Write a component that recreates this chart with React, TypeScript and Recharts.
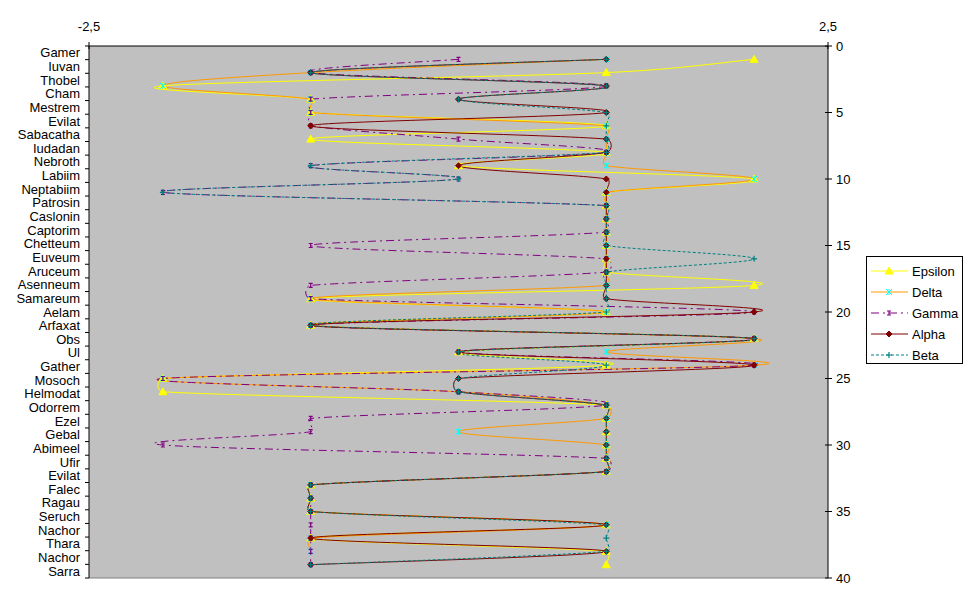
import React from 'react';
import { ComposedChart, Line, XAxis, YAxis, CartesianGrid, Legend } from 'recharts';

const categories = [
  'Gamer', 'Iuvan', 'Thobel', 'Cham', 'Mestrem', 'Evilat', 'Sabacatha', 'Iudadan', 'Nebroth', 'Labiim',
  'Neptabiim', 'Patrosin', 'Caslonin', 'Captorim', 'Chetteum', 'Euveum', 'Aruceum', 'Asenneum', 'Samareum', 'Aelam',
  'Arfaxat', 'Obs', 'Ul', 'Gather', 'Mosoch', 'Helmodat', 'Odorrem', 'Ezel', 'Gebal', 'Abimeel',
  'Ufir', 'Evilat', 'Falec', 'Ragau', 'Seruch', 'Nachor', 'Thara', 'Nachor', 'Sarra',
];
const positions = [
  1, 2, 3, 4, 5, 6, 7, 8, 9, 10, 11, 12, 13, 14, 15, 16, 17, 18, 19, 20,
  21, 22, 23, 24, 25, 26, 27, 28, 29, 30, 31, 32, 33, 34, 35, 36, 37, 38, 39,
];
const epsilon = [
  2, 1, -2, -1, -1, 1, -1, 1, 0, 2, 1, 1, 1, 1, 1, 1, 1, 2, -1, 1,
  -1, 2, 0, 1, -2, -2, 1, 1, 1, 1, 1, 1, -1, -1, -1, 1, -1, 1, 1,
];
const delta: (number | null)[] = [
  1, -1, -2, -1, -1, 1, 1, 1, 1, 2, 1, 1, 1, 1, 1, 1, 1, 1, -1, 1,
  -1, 2, 1, 2, -2, 0, 1, 1, 0, 1, 1, 1, -1, -1, -1, 1, -1, -1, null,
];
const gamma = [
  0, -1, 1, -1, -1, -1, 0, 1, -1, 0, -2, 1, 1, 1, -1, 1, 1, -1, -1, 2,
  -1, 2, 0, 2, -2, 0, 1, -1, -1, -2, 1, 1, -1, -1, -1, -1, -1, -1, -1,
];
const alpha = [
  1, -1, 1, 0, 1, -1, 1, 1, 0, 1, 1, 1, 1, 1, 1, 1, 1, 1, 1, 2,
  -1, 2, 0, 2, 0, 0, 1, 1, 1, 1, 1, 1, -1, -1, -1, 1, -1, 1, -1,
];
const beta = [
  1, -1, 1, 0, 1, 1, 1, 1, -1, 0, -2, 1, 1, 1, 1, 2, 1, 1, 1, 1,
  -1, 2, 0, 1, 0, 0, 1, 1, 1, 1, 1, 1, -1, -1, -1, 1, 1, 1, -1,
];
const seriesOrder = ['Epsilon', 'Delta', 'Gamma', 'Alpha', 'Beta'];
const xTicks = [-2.5, 2.5];
const yTicks = [0, 5, 10, 15, 20, 25, 30, 35, 40];
const catTicks = [
  0, 1, 2, 3, 4, 5, 6, 7, 8, 9, 10, 11, 12, 13, 14, 15, 16, 17, 18, 19,
  20, 21, 22, 23, 24, 25, 26, 27, 28, 29, 30, 31, 32, 33, 34, 35, 36, 37, 38, 39,
];

const data = categories.map((name, i) => ({
  name,
  pos: positions[i],
  Epsilon: epsilon[i],
  Delta: delta[i],
  Gamma: gamma[i],
  Alpha: alpha[i],
  Beta: beta[i],
}));

const W = 970;
const H = 603;
const LEFT_W = 89;
const RIGHT_W = 142;
const TOP_H = 46;
const BOTTOM_H = 25;
const PLOT_TOP = TOP_H;
const PLOT_BOTTOM = H - BOTTOM_H;
const BAND = (PLOT_BOTTOM - PLOT_TOP) / categories.length;
const FONT = '"Liberation Sans", Arial, sans-serif';

const COLORS: Record<string, string> = {
  Epsilon: '#FFFF00',
  Delta: '#FF9900',
  Gamma: '#800080',
  Alpha: '#800000',
  Beta: '#008080',
};
const DASH: Record<string, string | undefined> = {
  Epsilon: undefined,
  Delta: undefined,
  Gamma: '8 4 2 4',
  Alpha: undefined,
  Beta: '3 2',
};

// Excel-like smoothing: Catmull-Rom arms, limited to half of the segment length
const excelSmooth: any = (context: any) => {
  let pts: number[][] = [];
  const arm = (a: number[], b: number[], segLen: number) => {
    let dx = (b[0] - a[0]) / 6;
    let dy = (b[1] - a[1]) / 6;
    const len = Math.hypot(dx, dy);
    const lim = segLen * 0.5;
    if (len > lim && len > 0) {
      dx = (dx * lim) / len;
      dy = (dy * lim) / len;
    }
    return [dx, dy];
  };
  return {
    areaStart() {},
    areaEnd() {},
    lineStart() {
      pts = [];
    },
    point(x: number, y: number) {
      pts.push([+x, +y]);
    },
    lineEnd() {
      const n = pts.length;
      if (n === 0) return;
      context.moveTo(pts[0][0], pts[0][1]);
      if (n === 1) {
        context.lineTo(pts[0][0], pts[0][1]);
        return;
      }
      for (let i = 0; i < n - 1; i++) {
        const p0 = pts[i === 0 ? 0 : i - 1];
        const p1 = pts[i];
        const p2 = pts[i + 1];
        const p3 = pts[i + 2 < n ? i + 2 : n - 1];
        const seg = Math.hypot(p2[0] - p1[0], p2[1] - p1[1]);
        const a1 = arm(p0, p2, seg);
        const a2 = arm(p1, p3, seg);
        context.bezierCurveTo(p1[0] + a1[0], p1[1] + a1[1], p2[0] - a2[0], p2[1] - a2[1], p2[0], p2[1]);
      }
    },
  };
};

const marker = (name: string, cx: number, cy: number) => {
  const c = COLORS[name];
  switch (name) {
    case 'Epsilon':
      return <path d={`M${cx},${cy - 4}L${cx + 4},${cy + 3}L${cx - 4},${cy + 3}Z`} fill={c} stroke={c} strokeWidth={1} />;
    case 'Delta':
      return (
        <path
          d={`M${cx - 3},${cy - 3}L${cx + 3},${cy + 3}M${cx - 3},${cy + 3}L${cx + 3},${cy - 3}M${cx},${cy - 3}L${cx},${cy + 3}`}
          stroke="#00FFFF"
          strokeWidth={1}
          fill="none"
        />
      );
    case 'Gamma':
      return (
        <path
          d={`M${cx - 2},${cy - 2}h4M${cx},${cy - 2}v4M${cx - 2},${cy + 2}h4`}
          stroke={c}
          strokeWidth={1.2}
          fill="none"
        />
      );
    case 'Alpha':
      return <path d={`M${cx},${cy - 3}L${cx + 3},${cy}L${cx},${cy + 3}L${cx - 3},${cy}Z`} fill={c} stroke={c} strokeWidth={1} />;
    case 'Beta':
      return <path d={`M${cx - 3},${cy}h6M${cx},${cy - 3}v6`} stroke={c} strokeWidth={1.2} fill="none" />;
    default:
      return null;
  }
};

const makeDot = (name: string) => (props: any) => {
  const { cx, cy, index } = props;
  if (cx == null || cy == null || Number.isNaN(cx) || Number.isNaN(cy)) return <g key={`${name}-d-${index}`} />;
  return <g key={`${name}-d-${index}`}>{marker(name, cx, cy)}</g>;
};

const CatTick = (props: any) => {
  const { y, payload } = props;
  const k = payload.value as number;
  const label = categories[k];
  return (
    <g>
      <line x1={LEFT_W - 4} x2={LEFT_W} y1={y} y2={y} stroke="#000" strokeWidth={1} />
      {label !== undefined && (
        <text
          x={LEFT_W - 9}
          y={y + BAND / 2}
          textAnchor="end"
          dominantBaseline="central"
          fontSize={13}
          fontFamily={FONT}
          fill="#000"
        >
          {label}
        </text>
      )}
    </g>
  );
};

const RightTick = (props: any) => {
  const { y, payload } = props;
  const ax = W - RIGHT_W;
  return (
    <g>
      <line x1={ax - 3} x2={ax + 4} y1={y} y2={y} stroke="#000" strokeWidth={1} />
      <text x={ax + 8} y={y} textAnchor="start" dominantBaseline="central" fontSize={13} fontFamily={FONT} fill="#000">
        {String(payload.value)}
      </text>
    </g>
  );
};

const TopTick = (props: any) => {
  const { x, payload } = props;
  return (
    <g>
      <line x1={x} x2={x} y1={PLOT_TOP - 4} y2={PLOT_TOP + 3} stroke="#000" strokeWidth={1} />
      <text x={x} y={26} textAnchor="middle" dominantBaseline="central" fontSize={13} fontFamily={FONT} fill="#000">
        {String(payload.value).replace('.', ',')}
      </text>
    </g>
  );
};

const LegendContent = (props: any) => {
  const payload = props.payload || [];
  const rows = seriesOrder
    .map((k) => payload.find((p: any) => p.dataKey === k))
    .filter((p: any) => p);
  return (
    <svg width={97} height={108} style={{ display: 'block' }}>
      <rect x={0.5} y={0.5} width={96} height={107} fill="#FFFFFF" stroke="#000" strokeWidth={1} />
      {rows.map((entry: any, i: number) => {
        const name = entry.dataKey as string;
        const cy = 15 + i * 21;
        return (
          <g key={name}>
            <line x1={5} x2={42} y1={cy} y2={cy} stroke={COLORS[name]} strokeWidth={1} strokeDasharray={DASH[name]} />
            {marker(name, 23, cy)}
            <text x={46} y={cy} dominantBaseline="central" fontSize={13} fontFamily={FONT} fill="#000">
              {entry.value}
            </text>
          </g>
        );
      })}
    </svg>
  );
};

export default function App() {
  return (
    <div style={{ position: 'absolute', left: 0, top: 0, width: W, height: H, background: '#fff' }}>
      <ComposedChart
        width={W}
        height={H}
        data={data}
        layout="vertical"
        margin={{ top: 0, right: 0, bottom: 0, left: 0 }}
        style={{ fontFamily: FONT }}
      >
        <CartesianGrid xAxisId="top" yAxisId="val" fill="#C0C0C0" stroke="none" horizontal={false} vertical={false} />
        <XAxis
          xAxisId="top"
          orientation="top"
          type="number"
          domain={[-2.5, 2.5]}
          ticks={xTicks}
          height={TOP_H}
          axisLine={{ stroke: '#000', strokeWidth: 1 }}
          tickLine={false}
          tick={<TopTick />}
          interval={0}
        />
        <XAxis
          xAxisId="bot"
          orientation="bottom"
          type="number"
          domain={[-2.5, 2.5]}
          height={BOTTOM_H}
          axisLine={{ stroke: '#808080', strokeWidth: 1 }}
          tick={false}
          tickLine={false}
        />
        <YAxis
          yAxisId="cat"
          orientation="left"
          type="number"
          dataKey="pos"
          domain={[0, 39]}
          allowDataOverflow
          ticks={catTicks}
          width={LEFT_W}
          axisLine={{ stroke: '#000', strokeWidth: 1 }}
          tickLine={false}
          tick={<CatTick />}
          interval={0}
        />
        <YAxis
          yAxisId="val"
          orientation="right"
          type="number"
          dataKey="pos"
          domain={[0, 40]}
          ticks={yTicks}
          width={RIGHT_W}
          axisLine={{ stroke: '#000', strokeWidth: 1 }}
          tickLine={false}
          tick={<RightTick />}
          interval={0}
        />
        <Legend
          layout="vertical"
          align="center"
          verticalAlign="middle"
          content={<LegendContent />}
          wrapperStyle={{ left: 866, top: 256, width: 97, height: 108 }}
        />
        {seriesOrder.map((k) => (
          <Line
            key={k}
            xAxisId="top"
            yAxisId="val"
            dataKey={k}
            name={k}
            type={excelSmooth}
            stroke={COLORS[k]}
            strokeWidth={1}
            strokeDasharray={DASH[k]}
            dot={makeDot(k)}
            activeDot={false}
            isAnimationActive={false}
            connectNulls={false}
          />
        ))}
      </ComposedChart>
    </div>
  );
}
